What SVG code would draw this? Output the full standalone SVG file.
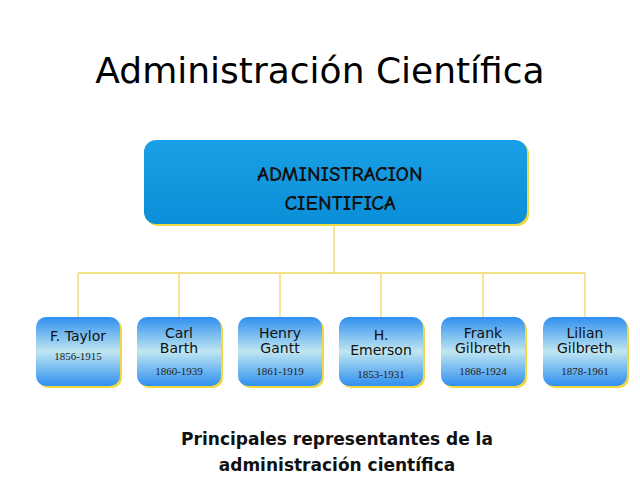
<svg xmlns="http://www.w3.org/2000/svg" width="640" height="480" viewBox="0 0 640 480">
<defs>
<linearGradient id="top" x1="0" y1="0" x2="0" y2="1"><stop offset="0" stop-color="#1aa0e6"/><stop offset="1" stop-color="#0a8fd8"/></linearGradient>
<linearGradient id="child" x1="0" y1="0" x2="0" y2="1"><stop offset="0" stop-color="#2f8ff0"/><stop offset="0.5" stop-color="#bfe6f0"/><stop offset="1" stop-color="#2f8ff0"/></linearGradient>
<style>
.c{fill:url(#child)}.sh{fill:#f0d840}
.n{font-family:"DejaVu Sans",sans-serif;font-size:14px;text-anchor:middle;fill:#111}
.y{font-family:"Liberation Serif",serif;font-size:11px;text-anchor:middle;fill:#222}
.h{font-family:"Comic Neue","DejaVu Sans",sans-serif;font-weight:bold;text-anchor:middle;fill:#111}
</style>
</defs>
<rect width="640" height="480" fill="#fff"/>
<text x="320" y="83" font-family="DejaVu Sans, sans-serif" font-size="36" text-anchor="middle" fill="#000">Administración Científica</text>
<g id="connectors" stroke="#f0d860" stroke-width="1.3" fill="none">
<path d="M334 224V273M78 273H585M78 273V317M179 273V317M280 273V317M381 273V317M483 273V317M585 273V317"/>
</g>
<g id="root"><rect x="146" y="142" width="383" height="84" rx="12" class="sh"/><rect x="144" y="140" width="383" height="84" rx="12" fill="url(#top)"/>
<text x="340" y="181" class="h" font-size="21">ADMINISTRACION</text><text x="340" y="210" class="h" font-size="21">CIENTIFICA</text></g>
<g id="taylor"><rect x="38" y="319" width="84" height="69" rx="10" class="sh"/><rect x="36" y="317" width="84" height="69" rx="10" class="c"/><text x="78" y="341" class="n">F. Taylor</text><text x="78" y="360" class="y">1856-1915</text></g>
<g id="barth"><rect x="139" y="319" width="84" height="69" rx="10" class="sh"/><rect x="137" y="317" width="84" height="69" rx="10" class="c"/><text x="179" y="338" class="n">Carl</text><text x="179" y="353" class="n">Barth</text><text x="179" y="375" class="y">1860-1939</text></g>
<g id="gantt"><rect x="240" y="319" width="84" height="69" rx="10" class="sh"/><rect x="238" y="317" width="84" height="69" rx="10" class="c"/><text x="280" y="338" class="n">Henry</text><text x="280" y="353" class="n">Gantt</text><text x="280" y="375" class="y">1861-1919</text></g>
<g id="emerson"><rect x="341" y="319" width="84" height="69" rx="10" class="sh"/><rect x="339" y="317" width="84" height="69" rx="10" class="c"/><text x="381" y="340" class="n">H.</text><text x="381" y="355" class="n">Emerson</text><text x="381" y="378" class="y">1853-1931</text></g>
<g id="fgilbreth"><rect x="443" y="319" width="84" height="69" rx="10" class="sh"/><rect x="441" y="317" width="84" height="69" rx="10" class="c"/><text x="483" y="338" class="n">Frank</text><text x="483" y="353" class="n">Gilbreth</text><text x="483" y="375" class="y">1868-1924</text></g>
<g id="lgilbreth"><rect x="545" y="319" width="84" height="69" rx="10" class="sh"/><rect x="543" y="317" width="84" height="69" rx="10" class="c"/><text x="585" y="338" class="n">Lilian</text><text x="585" y="353" class="n">Gilbreth</text><text x="585" y="375" class="y">1878-1961</text></g>
<text x="337" y="445" font-family="DejaVu Sans, sans-serif" font-weight="bold" font-size="17" text-anchor="middle" fill="#111">Principales representantes de la</text>
<text x="337" y="471" font-family="DejaVu Sans, sans-serif" font-weight="bold" font-size="17" text-anchor="middle" fill="#111">administración científica</text>
</svg>
